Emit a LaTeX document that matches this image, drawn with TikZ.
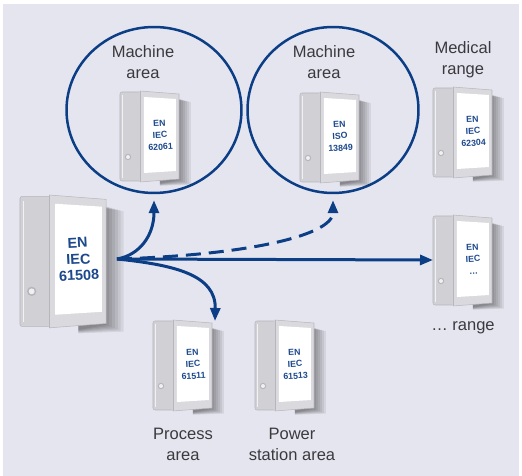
\documentclass[tikz,border=0pt]{standalone}
\usepackage{fontspec}
\setmainfont{Liberation Sans}
\usetikzlibrary{arrows.meta,shapes.geometric}

\definecolor{paper}{RGB}{229,229,239}
\definecolor{navy}{RGB}{12,62,134}
\definecolor{inkblue}{RGB}{28,72,140}
\definecolor{labelgray}{RGB}{58,58,62}
\definecolor{casing}{RGB}{218,218,222}
\definecolor{casingside}{RGB}{208,208,213}
\definecolor{casingedge}{RGB}{182,182,188}

\tikzset{
  zone/.style={ellipse, draw=navy, line width=0.5mm, minimum height=3.32cm, inner sep=0pt},
  flow/.style={draw=navy, line width=0.6mm, -{Triangle[length=2.6mm,width=2mm]}},
  area/.style={text=labelgray, align=center, inner sep=0pt, font=\fontsize{9.4}{11.9}\selectfont},
  cabfont/.style={text=inkblue, align=center, inner sep=0pt, font=\fontsize{5}{6.8}\selectfont\bfseries},
  % cabinet drawn in local units, origin at its top left corner
  pics/cabinet/.style={code={
    % soft shadow, stacked
    \foreach \d in {2,4,...,14}
      \fill[black, opacity=0.07] (40,6) -- (57+\d,7+0.3*\d) -- (57+\d,88+0.4*\d) -- (40,92+0.2*\d) -- cycle;
    \fill[casing] (20,0) -- (59,3) -- (59,88) -- (20,91) -- cycle;
    \draw[casingedge, line width=0.3pt] (20,0) -- (59,3) -- (59,88) -- (20,91);
    \fill[casingside, rounded corners=0.4mm] (0,1) rectangle (20,90);
    \draw[white!70!casingside, line width=0.8pt] (2.5,4) -- (2.5,87);
    \draw[casingedge, line width=0.3pt, rounded corners=0.4mm] (20,1) -- (0,1) -- (0,90) -- (20,90);
    \draw[casingedge, line width=0.4pt] (20,0) -- (20,91);
    \fill[white] (24,6) -- (56,8) -- (56,80) -- (24,82) -- cycle;
    \fill[casingedge] (8,66) circle (3.2);
    \fill[white!80!casingedge] (8,66) circle (2);
    \node[cabfont, rotate=3] (-txt) at (40,44) {#1};
    \coordinate (-in) at (0,45);
    \coordinate (-top) at (62,1);
  }}
}

\begin{document}
\begin{tikzpicture}[x=0.02cm, y=-0.02cm]
  \useasboundingbox (0,0) rectangle (522,476);
  \fill[white] (0,0) rectangle (522,476);
  \fill[paper] (3,4) rectangle (519,476);

  % the two machine areas
  \node[zone, minimum width=3.5cm] (mach1) at (154,110) {};
  \node[zone, minimum width=3.42cm] (mach2) at (333,110) {};
  \node[area] (lab1) at (143,62) {Machine\\area};
  \node[area] (lab2) at (324,62) {Machine\\area};
  \node[area] (lab3) at (463,60) {Medical\\range};
  \node[area] (lab4) at (463,328) {… range};
  \node[area] (lab5) at (183,444) {Process\\area};
  \node[area] (lab6) at (292,444) {Power\\station area};

  % cabinets
  \pic[scale=1.46, cabfont/.style={text=inkblue, align=center, inner sep=0pt,
    font=\fontsize{8.2}{9.2}\selectfont\bfseries}] (base) at (20,195) {cabinet={EN\\IEC\\61508}};
  \pic (cabA) at (120,91) {cabinet={EN\\IEC\\62061}};
  \pic (cabB) at (300,92) {cabinet={EN\\ISO\\13849}};
  \pic (cabC) at (433,87) {cabinet={EN\\IEC\\62304}};
  \pic (cabD) at (433,215) {cabinet={EN\\IEC\\…}};
  \pic (cabE) at (153,320) {cabinet={EN\\IEC\\61511}};
  \pic (cabF) at (255,320) {cabinet={EN\\IEC\\61513}};

  % arrows out of the base standard
  \coordinate (hub) at (117,259);
  \draw[flow] (hub) -- (cabD-in);
  \draw[flow, shorten >=1.2mm] (hub) .. controls (140,255) and (154,235) .. (mach1.south);
  \draw[flow, dash pattern=on 3mm off 1.6mm, shorten >=1.2mm]
    (hub) .. controls (250,255) and (333,235) .. (mach2.south);
  \draw[flow] (hub) .. controls (175,265) and (216,275) .. (cabE-top);
\end{tikzpicture}
\end{document}
